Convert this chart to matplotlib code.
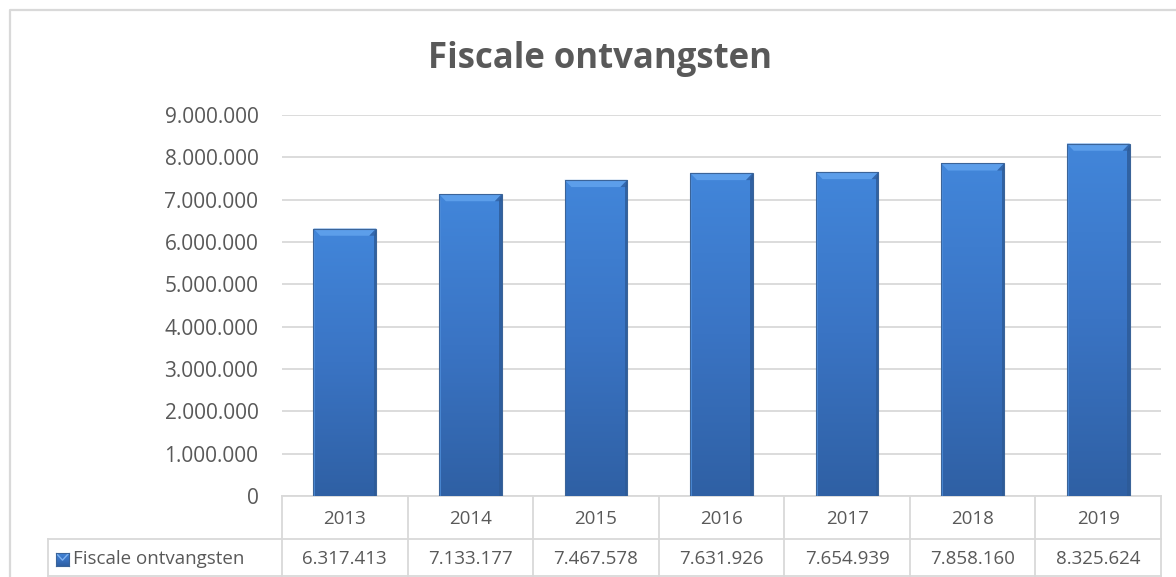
import matplotlib
matplotlib.use('Agg')
import matplotlib.pyplot as plt
import numpy as np
from matplotlib.patches import Rectangle, Polygon
from matplotlib.colors import LinearSegmentedColormap
from matplotlib.lines import Line2D
import matplotlib.transforms as mtrans

# ---- data ----
years = ['2013', '2014', '2015', '2016', '2017', '2018', '2019']
values = [6317413, 7133177, 7467578, 7631926, 7654939, 7858160, 8325624]
series_name = 'Fiscale ontvangsten'
chart_title = 'Fiscale ontvangsten'
yticks = [0, 1000000, 2000000, 3000000, 4000000, 5000000, 6000000, 7000000, 8000000, 9000000]


def nl(v):
    return f"{int(v):,}".replace(',', '.')


plt.rcParams['font.family'] = ['Open Sans', 'DejaVu Sans']
TXT = '#595959'
GRID = '#D9D9D9'

W, H = 1176, 577
fig = plt.figure(figsize=(W / 100, H / 100), dpi=100)
fig.patch.set_facecolor('white')

# plot area in pixels
L, R, T, B = 282, 1161, 115, 496
ax = fig.add_axes([L / W, 1 - B / H, (R - L) / W, (B - T) / H])
ax.set_xlim(-0.5, len(years) - 0.5)
ax.set_ylim(0, 9000000)
ax.set_yticks(yticks)
ax.set_yticklabels([nl(v) for v in yticks], color=TXT, fontsize=15)
ax.tick_params(axis='y', length=0, pad=17)
ax.set_xticks([])
ax.yaxis.grid(True, color=GRID, lw=1.3)
ax.set_axisbelow(True)
for s in ['top', 'right', 'left']:
    ax.spines[s].set_visible(False)
ax.spines['bottom'].set_color(GRID)
ax.spines['bottom'].set_linewidth(1.3)

# ---- bars with gradient ----
cmap_v = LinearSegmentedColormap.from_list('v', ['#2F60A4', '#3A74C4', '#4286DA'])
bw = 0.5
bars = ax.bar(range(len(years)), values, width=bw, color='none', edgecolor='none', zorder=3)
grad = np.linspace(0, 1, 256).reshape(-1, 1)
grad = np.tile(grad, (1, 32))
for i, b in enumerate(bars):
    x0 = b.get_x()
    v = b.get_height()
    im = ax.imshow(grad, cmap=cmap_v, origin='lower', aspect='auto',
                   extent=(x0, x0 + bw, 0, v), zorder=3, interpolation='bilinear')
    clip = Rectangle((x0, 0), bw, v, transform=ax.transData)
    im.set_clip_path(clip)
    # bevel: top highlight trapezoid and side shading
    dx = 0.055
    dy = 170000
    ax.add_patch(Polygon([(x0, v), (x0 + bw, v), (x0 + bw - dx, v - dy), (x0 + dx, v - dy)],
                         closed=True, facecolor='#5C9EEA', edgecolor='none', zorder=4))
    ax.add_patch(Polygon([(x0 + bw, v), (x0 + bw - dx, v - dy), (x0 + bw, v - dy)],
                         closed=True, facecolor='#3468AE', edgecolor='none', zorder=4))
    ax.add_patch(Polygon([(x0 + bw, v), (x0 + bw, 0), (x0 + bw - 0.02, 0), (x0 + bw - 0.02, v - dy)],
                         closed=True, facecolor='#2D5A96', edgecolor='none', zorder=4, alpha=0.8))
    ax.add_patch(Polygon([(x0, v), (x0, 0), (x0 + 0.015, 0), (x0 + 0.015, v - dy)],
                         closed=True, facecolor='#4F90DE', edgecolor='none', zorder=4, alpha=0.8))
    ax.add_patch(Rectangle((x0, 0), bw, v, facecolor='none', edgecolor='#3B6499', lw=0.8, zorder=5))

# ---- data table below ----
bt = mtrans.blended_transform_factory(ax.transData, ax.transAxes)
row1 = -43 / (B - T)
row2 = -80 / (B - T)
hdr_left = -0.5 - (L - 48) / ((R - L) / len(years))
n = len(years)
for k in range(n + 1):
    ax.add_line(Line2D([-0.5 + k, -0.5 + k], [0, row2], transform=bt, color=GRID, lw=1.3, clip_on=False))
ax.add_line(Line2D([hdr_left, hdr_left], [row1, row2], transform=bt, color=GRID, lw=1.3, clip_on=False))
ax.add_line(Line2D([hdr_left, n - 0.5], [row1, row1], transform=bt, color=GRID, lw=1.3, clip_on=False))
ax.add_line(Line2D([hdr_left, n - 0.5], [row2, row2], transform=bt, color=GRID, lw=1.3, clip_on=False))

for i, (yr, v) in enumerate(zip(years, values)):
    ax.text(i, row1 / 2 - 0.004, yr, transform=bt, ha='center', va='center', color=TXT, fontsize=13.5)
    ax.text(i, (row1 + row2) / 2 - 0.004, nl(v), transform=bt, ha='center', va='center', color=TXT, fontsize=13.5)

# legend key + series name in header cell
fig.text(73 / W, 1 - 559 / H, series_name, ha='left', va='center', color=TXT, fontsize=13.5)
key_ax = fig.add_axes([56 / W, 1 - 566 / H, 13 / W, 13 / H])
key_ax.imshow(np.linspace(0, 1, 32).reshape(-1, 1), cmap=cmap_v, origin='lower', aspect='auto')
key_ax.plot([0, 0.5, 1], [1, 0.45, 1], transform=key_ax.transAxes, color='#7FB2F0', lw=1)
key_ax.set_xticks([]); key_ax.set_yticks([])
for s in key_ax.spines.values():
    s.set_color('#3B6499'); s.set_linewidth(0.8)

# title
fig.text(600 / W, 1 - 59 / H, chart_title, ha='center', va='center', color=TXT,
         fontsize=25, fontweight='bold')

# chart border
fig.add_artist(Line2D([9.5 / W, 9.5 / W, 1.01], [-0.01, 1 - 9.5 / H, 1 - 9.5 / H],
                      transform=fig.transFigure, color=GRID, lw=1.6))

fig.savefig('out.png', dpi=100, facecolor='white')
